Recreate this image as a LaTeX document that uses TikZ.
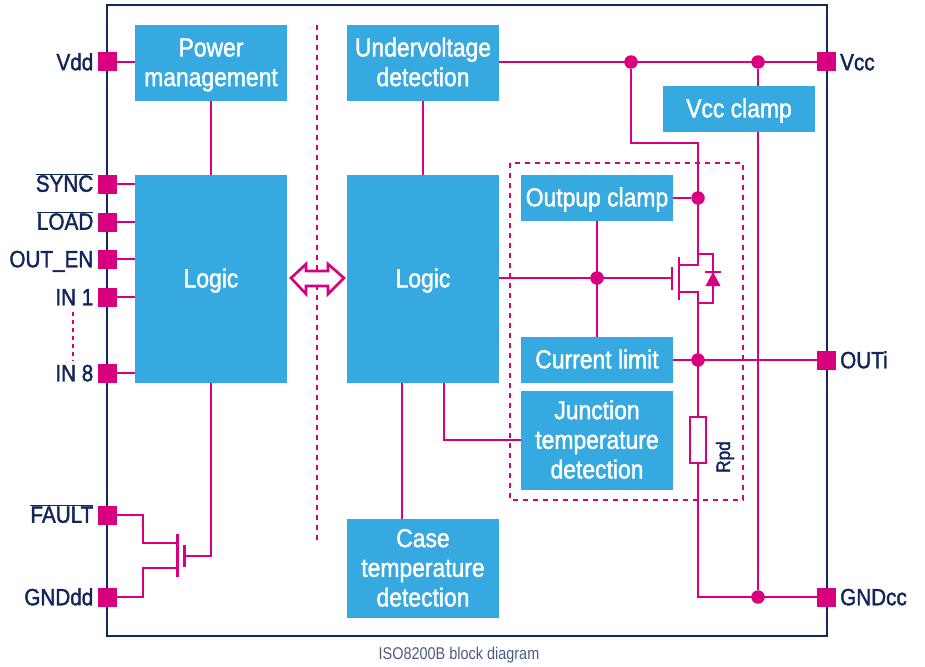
\documentclass[tikz,border=0pt]{standalone}
\usepackage{fontspec}
\setmainfont[FakeStretch=0.88,FakeBold=1.6]{Liberation Sans}
\newfontfamily\capfont[FakeStretch=0.85]{Liberation Sans}
\usetikzlibrary{calc}
\definecolor{stblue}{HTML}{36A9E1}
\definecolor{stpink}{HTML}{D9007F}
\definecolor{stnavy}{HTML}{12265A}
\newcommand{\blkstrut}{\rule[-6pt]{0pt}{28.6pt}}
\newcommand{\blktop}{\rule{0pt}{22.5pt}}
\tikzset{
  blk/.style={rectangle, fill=stblue, text=white, align=center, inner sep=0pt,
    minimum width=152pt, execute at begin node=\blkstrut, execute at end node=\blkstrut,
    font=\fontsize{26}{29.6}\selectfont},
  pad/.style={rectangle, fill=stpink, inner sep=0pt, minimum size=19pt},
  pinl/.style={text=stnavy, anchor=east, inner sep=0pt, text height=16.5pt, text depth=0pt,
    font=\fontsize{23.5}{28}\selectfont},
  pinr/.style={pinl, anchor=west},
  dot/.style={circle, fill=stpink, inner sep=0pt, minimum size=13.5pt},
  wire/.style={draw=stpink, line width=2.6pt},
  dots/.style={draw=stpink, line width=2.6pt, dash pattern=on 5pt off 5pt},
  fet/.style={draw=stpink, line width=2.6pt},
}
\begin{document}
\begin{tikzpicture}[x=1pt, y=-1pt]
  \useasboundingbox (0,0) rectangle (925,666);
  \fill[white] (0,0) rectangle (925,666);
  % chip outline and separators
  \draw[stnavy, line width=2.4pt] (107,5) rectangle (827,636);
  \draw[dots] (510,163) rectangle (743,500);
  \coordinate (sepa) at (317,25);
  \coordinate (sepb) at (317,543);
  \draw[dots] (sepa) -- (sepb);
  % blocks
  \node[blk, minimum height=76pt] (pwr) at (211,63) {\blktop Power\\management};
  \node[blk, minimum height=76pt] (uvd) at (423,63) {\blktop Undervoltage\\detection};
  \node[blk, minimum height=46pt] (vcl) at (739,109) {Vcc clamp};
  \node[blk, minimum height=208pt] (lgl) at (211,279) {Logic};
  \node[blk, minimum height=208pt] (lgr) at (423,279) {Logic};
  \node[blk, minimum height=46pt] (opc) at (597,198) {Outpup clamp};
  \node[blk, minimum height=46pt] (cur) at (597,360) {Current limit};
  \node[blk, minimum height=99pt] (jtd) at (597,440.5) {\blktop Junction\\temperature\\detection};
  \node[blk, minimum height=99pt] (ctd) at (423,568.5) {\blktop Case\\temperature\\detection};
  % left pins
  \node[pad] (vdd) at (107.5,62) {};
  \node[pad] (syn) at (107.5,184) {};
  \node[pad] (lod) at (107.5,222) {};
  \node[pad] (oen) at (107.5,259) {};
  \node[pad] (in1) at (107.5,297) {};
  \node[pad] (in8) at (107.5,373) {};
  \node[pad] (flt) at (107.5,515) {};
  \node[pad] (gdd) at (107.5,597) {};
  \node[pinl] (tvdd) at (93.5,62) {Vdd};
  \node[pinl] (tsyn) at (93.5,183.5) {$\overline{\mbox{SYNC}}$};
  \node[pinl] (tlod) at (93.5,221.5) {$\overline{\mbox{LOAD}}$};
  \node[pinl] (toen) at (93.5,259) {OUT\_EN};
  \node[pinl] (tin1) at (93.5,297) {IN 1};
  \node[pinl] (tin8) at (93.5,373) {IN 8};
  \node[pinl] (tflt) at (93.5,514.5) {$\overline{\mbox{FAULT}}$};
  \node[pinl] (tgdd) at (93.5,597) {GNDdd};
  \coordinate (ina) at (73,312);
  \coordinate (inb) at (73,361);
  \draw[stpink, line width=2.6pt, dash pattern=on 4pt off 4pt] (ina) -- (inb);
  % right pins
  \node[pad] (vcc) at (826.5,62) {};
  \node[pad] (oui) at (826.5,360) {};
  \node[pad] (gcc) at (826.5,597) {};
  \node[pinr] (tvcc) at (840,62) {Vcc};
  \node[pinr] (toui) at (840,360) {OUTi};
  \node[pinr] (tgcc) at (840,597) {GNDcc};
  % left side wiring
  \draw[wire] (vdd) -- (vdd -| pwr.west);
  \draw[wire] (pwr) -- (lgl);
  \draw[wire] (syn) -- (syn -| lgl.west);
  \draw[wire] (lod) -- (lod -| lgl.west);
  \draw[wire] (oen) -- (oen -| lgl.west);
  \draw[wire] (in1) -- (in1 -| lgl.west);
  \draw[wire] (in8) -- (in8 -| lgl.west);
  % fault transistor
  \coordinate (fg) at (185,556);
  \coordinate (fd) at (177.5,543);
  \coordinate (fs) at (177.5,568);
  \draw[wire] (lgl.south) |- (fg);
  \draw[wire] (flt) -- (143,515) |- (fd);
  \draw[wire] (gdd) -- (143,597) |- (fs);
  \draw[fet] (177.5,534) -- (177.5,577);
  \draw[fet] (184.5,545) -- (184.5,567);
  % double arrow between the two logic blocks
  \draw[draw=stpink, fill=white, line width=2.6pt]
    (291,278) -- (306,264) -- (306,271) -- (328,271) -- (328,264) -- (344,278)
    -- (328,294) -- (328,286) -- (306,286) -- (306,294) -- cycle;
  % right side wiring
  \node[dot] (d1) at (631,62) {};
  \node[dot] (d2) at (758,62) {};
  \node[dot] (d3) at (698,198) {};
  \node[dot] (d4) at (597,278) {};
  \node[dot] (d5) at (698,360) {};
  \node[dot] (d6) at (758,597) {};
  \draw[wire] (vcc -| uvd.east) -- (vcc);
  \draw[wire] (uvd) -- (lgr);
  \draw[wire] (d2) -- (d2 |- vcl.north);
  \draw[wire] (d2 |- vcl.south) -- (d6);
  \coordinate (dt) at (698,265);
  \coordinate (st) at (698,292);
  \coordinate (gt) at (672,278);
  \draw[wire] (d1) |- (dt |- 0,143) -- (dt) -- (679,265);
  \draw[wire] (opc) -- (d3);
  \draw[wire] (lgr.east |- d4) -- (gt);
  \draw[wire] (opc) -- (cur);
  \draw[wire] (cur) -- (oui);
  \draw[wire] (679,292) -- (st) -- (st |- gcc) -- (gcc);
  \draw[wire] ($(lgr.south)+(-21,0)$) -- ($(ctd.north)+(-21,0)$);
  \draw[wire] ($(lgr.south)+(21,0)$) |- (jtd.west |- 0,440);
  % output transistor
  \draw[fet] (672,267) -- (672,290);
  \draw[fet] (679,257) -- (679,300);
  \draw[fet] (698,254) -- (713,254) -- (713,303) -- (698,303);
  \draw[fet] (705,272) -- (721,272);
  \fill[stpink] (713,272) -- (720.5,286) -- (705.5,286) -- cycle;
  % pull-down resistor
  \draw[draw=stpink, fill=white, line width=2.6pt] (690,417) rectangle (706,463);
  \node[text=stnavy, rotate=90, inner sep=0pt, font=\fontsize{19.5}{22}\selectfont] (rpd) at (725,457) {Rpd};
  % caption
  \node[text=stnavy!75, inner sep=0pt, font=\capfont\fontsize{17}{20}\selectfont] (cap) at (459,655) {ISO8200B block diagram};
\end{tikzpicture}
\end{document}
